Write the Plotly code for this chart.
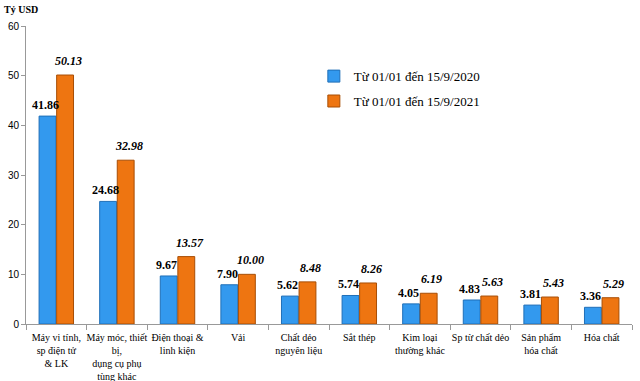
import plotly.graph_objects as go

categories = ["Máy vi tính,<br>sp điện tử<br>& LK", "Máy móc, thiết<br>bị,<br>dụng cụ phụ<br>tùng khác",
              "Điện thoại &<br>linh kiện", "Vải", "Chất dẻo<br>nguyên liệu", "Sắt thép",
              "Kim loại<br>thường khác", "Sp từ chất dẻo", "Sản phẩm<br>hóa chất", "Hóa chất"]
v2020 = [41.86, 24.68, 9.67, 7.90, 5.62, 5.74, 4.05, 4.83, 3.81, 3.36]
v2021 = [50.13, 32.98, 13.57, 10.00, 8.48, 8.26, 6.19, 5.63, 5.43, 5.29]
name2020 = "Từ 01/01 đến 15/9/2020"
name2021 = "Từ 01/01 đến 15/9/2021"

serif = "Liberation Serif"
sans = "Liberation Sans"
fig = go.Figure()
fig.add_trace(go.Bar(x=categories, y=v2020, name=name2020, legendgroup="a",
                     marker=dict(color="#3399EE", line=dict(color="#1F6FB8", width=1))))
fig.add_trace(go.Bar(x=categories, y=v2021, name=name2021, legendgroup="b",
                     marker=dict(color="#EE7511", line=dict(color="#A84E05", width=1))))

annotations = [dict(text="<b>Tỷ USD</b>", x=0, y=1, xref="paper", yref="paper", xshift=-24, yshift=24,
                    xanchor="left", yanchor="top", showarrow=False, font=dict(family=serif, size=10))]
for c, v in zip(categories, v2020):
    annotations.append(dict(text=f"<b>{v:.2f}</b>", x=c, y=v, xref="x", yref="y", xshift=-11, yshift=2,
                            xanchor="center", yanchor="bottom", showarrow=False,
                            font=dict(family=serif, size=12, color="black")))
for c, v in zip(categories, v2021):
    annotations.append(dict(text=f"<b><i>{v:.2f}</i></b>", x=c, y=v, xref="x", yref="y", xshift=12, yshift=5,
                            xanchor="center", yanchor="bottom", showarrow=False,
                            font=dict(family=serif, size=12, color="black")))

fig.update_layout(
    width=640, height=381, barmode="group", bargap=0.42, bargroupgap=0.04,
    margin=dict(l=26, r=8, t=26, b=57),
    plot_bgcolor="white", paper_bgcolor="white",
    font=dict(family=serif, size=10, color="black"),
    legend=dict(x=0.475, y=0.882, xanchor="left", yanchor="top", font=dict(family=serif, size=13),
                bgcolor="rgba(0,0,0,0)", itemwidth=30, tracegroupgap=5),
    annotations=annotations,
)
fig.update_yaxes(range=[0, 60], dtick=10, showgrid=False, showline=True, linecolor="#999999",
                 ticks="outside", ticklen=4, tickcolor="#999999", tickfont=dict(family=sans, size=10),
                 zeroline=False, automargin=False)
fig.update_xaxes(showline=True, linecolor="#999999", ticks="outside", tickson="boundaries", ticklen=5,
                 tickcolor="#999999", tickangle=0, tickfont=dict(family=serif, size=10), automargin=False,
                 ticklabelstandoff=4)
fig.write_html("out.html", config={"displayModeBar": False},
               post_script="document.body.style.margin='0';")
